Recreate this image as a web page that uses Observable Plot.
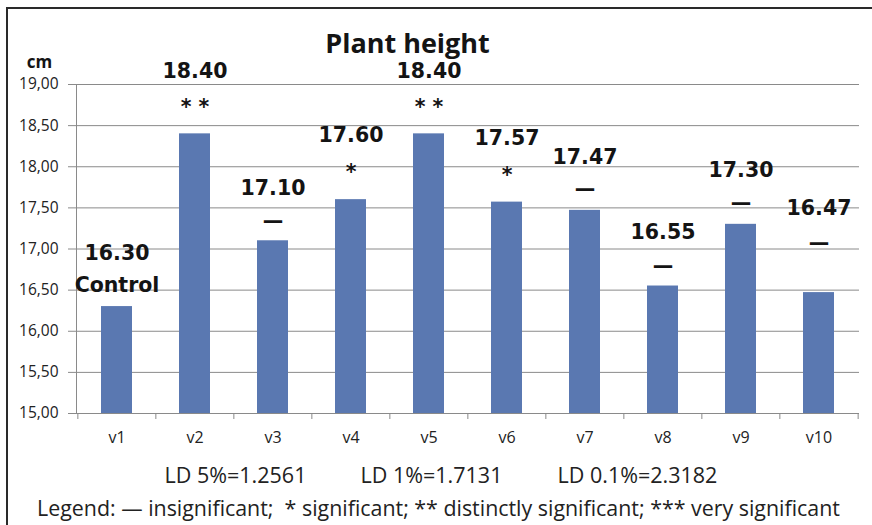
<!DOCTYPE html>
<html>
<head>
<meta charset="utf-8">
<script src="https://cdn.jsdelivr.net/npm/d3@7"></script>
<script src="https://cdn.jsdelivr.net/npm/@observablehq/plot@0.6"></script>
<style>
  body { margin: 0; background: #fff; }
  #wrap { position: relative; width: 872px; height: 525px; overflow: hidden; background: #fff; }
  #wrap svg { position: absolute; left: 0; top: 0; }
  #border { position: absolute; left: 6px; top: 7px; right: -10px; bottom: -10px;
            border-top: 2px solid #2a2a2a; border-left: 2px solid #2a2a2a; pointer-events: none; }
</style>
</head>
<body>
<div id="wrap"></div>
<script>
// ---- data ----
const categories = ["v1", "v2", "v3", "v4", "v5", "v6", "v7", "v8", "v9", "v10"];
const values = [16.30, 18.40, 17.10, 17.60, 18.40, 17.57, 17.47, 16.55, 17.30, 16.47];
const significance = ["Control", "* *", "—", "*", "* *", "*", "—", "—", "—", "—"];
// annotation anchors (in cm, as placed in the original chart)
const valueLabelAt = [16.94, 19.16, 17.74, 18.38, 19.16, 18.34, 18.11, 17.20, 17.95, 17.49];
const markLabelAt = [16.56, 18.72, 17.34, 17.93, 18.72, 17.89, 17.72, 16.79, 17.55, 17.07];
const yTicks = [15, 15.5, 16, 16.5, 17, 17.5, 18, 18.5, 19];
const title = "Plant height";
const yUnit = "cm";
const ldNotes = ["LD 5%=1.2561", "LD 1%=1.7131", "LD 0.1%=2.3182"];
const legendText = "Legend: — insignificant;\u00a0 * significant; ** distinctly significant; *** very significant";

// ---- layout / style ----
const W = 872, H = 525;
const mL = 76, mR = 13, mT = 84, mB = 112;
const step = (W - mL - mR) / categories.length;
const grid = "#8a8a8a";
const barColor = "#5a78b1";
const ink = "#141414";

const rows = categories.map((c, i) => ({
  cat: c, value: values[i], mark: significance[i], vAt: valueLabelAt[i], mAt: markLabelAt[i]
}));

const fmtY = d => d3.format(".2f")(d).replace(".", ",");
const ldDx = [-232.5, -36.5, 169.5];

const chart = Plot.plot({
  width: W, height: H,
  marginLeft: mL, marginRight: mR, marginTop: mT, marginBottom: mB,
  style: { fontFamily: "'Open Sans', sans-serif", fontSize: "15px", color: "#222", background: "transparent", overflow: "visible" },
  x: { domain: categories, paddingInner: 0.6, paddingOuter: 0.3, label: null },
  y: { domain: [15, 19], label: null },
  marks: [
    Plot.gridY(yTicks, { stroke: grid, strokeOpacity: 1 }),
    Plot.axisY(yTicks, { tickSize: 8, tickPadding: 10, tickFormat: fmtY, stroke: grid, fill: "#222", fontSize: 15.5 }),
    Plot.frame({ anchor: "left", stroke: grid }),
    Plot.ruleY([15], { stroke: grid }),
    Plot.axisX({ tickSize: 0, tickPadding: 18, fill: "#222", fontSize: 16 }),
    Plot.axisX(categories, { tickSize: 6, tickFormat: () => "", dx: -step / 2, stroke: grid }),
    Plot.axisX([categories[categories.length - 1]], { tickSize: 6, tickFormat: () => "", dx: step / 2, stroke: grid }),
    Plot.barY(rows, { x: "cat", y1: 15, y2: "value", fill: barColor }),
    Plot.text(rows, { x: "cat", y: "vAt", text: d => d3.format(".2f")(d.value),
      fontFamily: "'DejaVu Sans', sans-serif", fontWeight: "bold", fontSize: 20.5, fill: ink }),
    Plot.text(rows, { x: "cat", y: "mAt", text: "mark",
      fontFamily: "'DejaVu Sans', sans-serif", fontWeight: "bold", fontSize: 20.5, fill: ink }),
    Plot.text([title], { frameAnchor: "top", lineAnchor: "bottom", dx: -60.5, dy: -32,
      fontFamily: "'Open Sans', sans-serif", fontWeight: "bold", fontSize: 27, fill: ink }),
    Plot.text([yUnit], { frameAnchor: "top-left", textAnchor: "middle", lineAnchor: "bottom", dx: -37, dy: -17,
      fontFamily: "'Open Sans', sans-serif", fontWeight: "bold", fontSize: 17, fill: ink }),
    ...ldNotes.map((t, i) => Plot.text([t], { frameAnchor: "bottom", lineAnchor: "bottom", dx: ldDx[i], dy: 69,
      fontFamily: "'Open Sans', sans-serif", fontSize: 21.5, fill: "#222" })),
    Plot.text([legendText], { frameAnchor: "bottom", lineAnchor: "bottom", dx: -29.5, dy: 102,
      fontFamily: "'Open Sans', sans-serif", fontSize: 21.4, fill: "#222" })
  ]
});

const wrap = document.getElementById("wrap");
wrap.appendChild(chart);
const border = document.createElement("div");
border.id = "border";
wrap.appendChild(border);
</script>
</body>
</html>
